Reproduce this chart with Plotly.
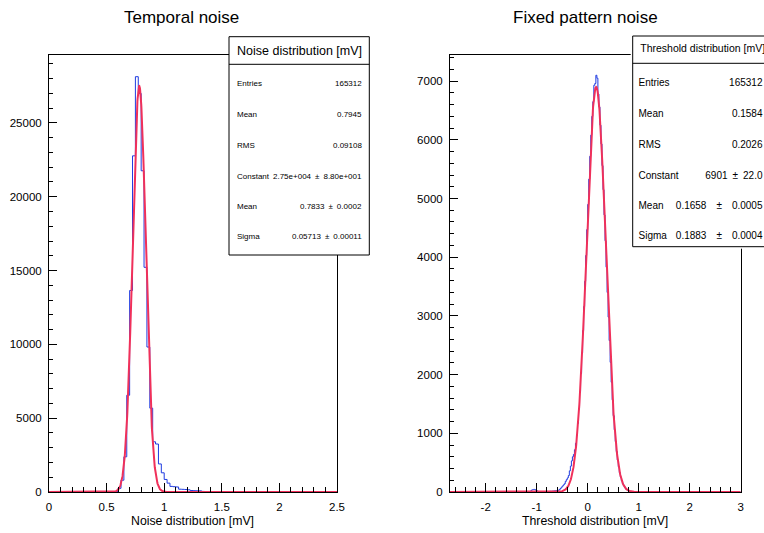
import numpy as np
import plotly.graph_objects as go

# ---------------- data ----------------
# Left panel: temporal noise histogram (bin width 0.025 mV)
noise_bin_width = 0.025
noise_first_edge = 0.575
noise_counts = [30, 250, 800, 2385, 6554, 13650, 22770, 28130, 27000, 21760,
                15220, 9820, 5680, 3400, 3250, 1900, 1300, 850, 600, 380,
                360, 340, 190, 180, 170, 150, 100, 90, 85, 80, 40, 25, 15]
noise_fit_const = 2.75e4
noise_fit_mean = 0.7833
noise_fit_sigma = 0.05713
noise_xrange = [0.0, 2.5]
noise_yrange = [0, 29600]
noise_stats_labels = ["Entries", "Mean", "RMS", "Constant", "Mean", "Sigma"]
noise_stats_values = ["165312", "0.7945", "0.09108", "2.75e+004\u2002\u00b1\u20028.80e+001",
                      "0.7833\u2002\u00b1\u20020.0002", "0.05713\u2002\u00b1\u20020.00011"]

# Right panel: fixed pattern noise histogram (bin width 0.02 mV)
thr_bin_width = 0.02
thr_first_edge = -1.12
thr_counts = [20, 35, 40, 45, 40, 30, 20, 10,
              8, 6, 7, 5, 6, 8, 7, 9, 10, 8, 10, 12, 11, 14, 15, 18, 20, 22,
              25, 30, 40, 60, 80, 100, 120, 140, 180, 210, 240, 280, 360, 440,
              530, 600, 640, 720, 830, 970, 1170, 1410, 1700, 2020, 2370, 2750,
              3160, 3590, 4030, 4470, 4900, 5330, 5720, 6080, 6400, 6650, 6930,
              6960, 7100, 7050, 6780, 6560, 6250, 5930, 5560, 5150, 4720, 4280,
              3830, 3400, 2980, 2580, 2210, 1870, 1570, 1300, 1060, 860, 690,
              545, 430, 330, 255, 190, 145, 105, 80, 56, 40, 28, 20, 14, 9, 6, 4, 2]
thr_fit_const = 6901
thr_fit_mean = 0.1658
thr_fit_sigma = 0.1883
thr_xrange = [-2.7, 3.0]
thr_yrange = [0, 7445]
thr_stats_labels = ["Entries", "Mean", "RMS", "Constant", "Mean", "Sigma"]
thr_stats_values = ["165312", "0.1584", "0.2026", "6901\u2002\u00b1\u200222.0",
                    "0.1658\u2003\u00b1\u20030.0005", "0.1883\u2003\u00b1\u20030.0004"]

thr_tickvals = [-2, -1, 0, 1, 2, 3]
thr_ticktext = ["-2", "-1", "0", "1", "2", "3"]

# ---------------- layout helpers ----------------
W, H = 764, 533
FONT = "Liberation Sans, Arial, Helvetica, sans-serif"
BLUE = "#1f3be0"
RED = "#f0305a"


def px(x):
    return x / W


def py(y):
    return 1 - y / H


def step_xy(first_edge, width, counts, xr):
    edges = first_edge + width * np.arange(len(counts) + 1)
    xs = [xr[0]] + list(edges) + [xr[1]]
    ys = [0] + list(counts) + [0, 0]
    return xs, ys


def gauss(xr, c, m, s):
    x = np.linspace(xr[0], xr[1], 1500)
    return x, c * np.exp(-0.5 * ((x - m) / s) ** 2)


fig = go.Figure()

xs, ys = step_xy(noise_first_edge, noise_bin_width, noise_counts, noise_xrange)
fig.add_trace(go.Scatter(x=xs, y=ys, mode="lines", line=dict(color=BLUE, width=1, shape="hv"),
                         xaxis="x", yaxis="y", showlegend=False, hoverinfo="skip"))
fx, fy = gauss(noise_xrange, noise_fit_const, noise_fit_mean, noise_fit_sigma)
fig.add_trace(go.Scatter(x=fx, y=fy, mode="lines", line=dict(color=RED, width=2),
                         xaxis="x", yaxis="y", showlegend=False, hoverinfo="skip"))

xs, ys = step_xy(thr_first_edge, thr_bin_width, thr_counts, thr_xrange)
fig.add_trace(go.Scatter(x=xs, y=ys, mode="lines", line=dict(color=BLUE, width=1, shape="hv"),
                         xaxis="x2", yaxis="y2", showlegend=False, hoverinfo="skip"))
fx, fy = gauss(thr_xrange, thr_fit_const, thr_fit_mean, thr_fit_sigma)
fig.add_trace(go.Scatter(x=fx, y=fy, mode="lines", line=dict(color=RED, width=2),
                         xaxis="x2", yaxis="y2", showlegend=False, hoverinfo="skip"))

L_X0, L_X1 = 49, 337
R_X0, R_X1 = 450, 740.7
Y_TOP, Y_BOT = 55, 492

axis_common = dict(showline=True, linecolor="black", linewidth=1, mirror=True,
                   showgrid=False, zeroline=False, ticks="inside", tickcolor="black",
                   tickfont=dict(family=FONT, size=11.5, color="black"),
                   ticklabelstandoff=4, automargin=False)

# right stats box lives in its own (invisible) subplot so it is clipped at the page edge
BX0, BX1, BY0, BY1, BSEP = 632.7, 772.7, 36, 246.7, 63.3

fig.update_layout(
    width=W, height=H, margin=dict(l=0, r=0, t=0, b=0, autoexpand=False),
    paper_bgcolor="white", plot_bgcolor="white",
    xaxis=dict(domain=[px(L_X0), px(L_X1)], range=noise_xrange, anchor="y",
               dtick=0.5, ticklen=9,
               minor=dict(dtick=0.1, ticks="inside", ticklen=5, tickcolor="black"),
               **axis_common),
    yaxis=dict(domain=[py(Y_BOT), py(Y_TOP)], range=noise_yrange, anchor="x",
               dtick=5000, ticklen=8, tickformat="d",
               minor=dict(dtick=1000, ticks="inside", ticklen=4, tickcolor="black"),
               **axis_common),
    xaxis2=dict(domain=[px(R_X0), px(R_X1)], range=thr_xrange, anchor="y2",
                tickvals=thr_tickvals, ticktext=thr_ticktext, ticklen=9,
                minor=dict(dtick=0.2, ticks="inside", ticklen=5, tickcolor="black"),
                **axis_common),
    yaxis2=dict(domain=[py(Y_BOT), py(Y_TOP)], range=thr_yrange, anchor="x2",
                dtick=1000, ticklen=8, tickformat="d",
                minor=dict(dtick=200, ticks="inside", ticklen=4, tickcolor="black"),
                **axis_common),
    xaxis3=dict(domain=[px(BX0 - 2), 1.0], range=[BX0 - 2, W], anchor="y3",
                visible=False, fixedrange=True, automargin=False),
    yaxis3=dict(domain=[py(BY1 + 2), py(BY0 - 2)], range=[BY1 + 2, BY0 - 2], anchor="x3",
                visible=False, fixedrange=True, automargin=False),
)

shapes = []
annotations = []


def add_text(x, y, text, size, xanchor="center"):
    annotations.append(dict(x=px(x), y=py(y), xref="paper", yref="paper", text=text,
                            showarrow=False, xanchor=xanchor, yanchor="middle",
                            font=dict(family=FONT, size=size, color="black"),
                            borderpad=0))


# titles
add_text(181.5, 18, "Temporal noise", 17)
add_text(585, 18, "Fixed pattern noise", 17)
# axis titles
add_text((L_X0 + L_X1) / 2, 521, "Noise distribution [mV]", 12.3)
add_text((R_X0 + R_X1) / 2, 521, "Threshold distribution [mV]", 12.3)

ROWS = [83.3, 114.3, 145, 176, 206, 236.7]

# left stats box
LB = (229, 369.3, 36.7, 255, 64.3)
shapes.append(dict(type="rect", xref="paper", yref="paper", x0=px(LB[0]), x1=px(LB[1]),
                   y0=py(LB[3]), y1=py(LB[2]), fillcolor="white",
                   line=dict(color="black", width=1), layer="above"))
shapes.append(dict(type="line", xref="paper", yref="paper", x0=px(LB[0]), x1=px(LB[1]),
                   y0=py(LB[4]), y1=py(LB[4]), line=dict(color="black", width=1),
                   layer="above"))
add_text((LB[0] + LB[1]) / 2, (LB[2] + LB[4]) / 2, "Noise distribution [mV]", 12.5)
for yy, lab, val in zip(ROWS, noise_stats_labels, noise_stats_values):
    add_text(236, yy, lab, 8, "left")
    add_text(363, yy, val, 8, "right")

# right stats box (clipped subplot)
fig.add_trace(go.Scatter(x=[BX0, BX1, BX1, BX0, BX0], y=[BY0, BY0, BY1, BY1, BY0],
                         mode="lines", fill="toself", fillcolor="white",
                         line=dict(color="black", width=1),
                         xaxis="x3", yaxis="y3", showlegend=False, hoverinfo="skip"))
fig.add_trace(go.Scatter(x=[BX0, BX1], y=[BSEP, BSEP], mode="lines",
                         line=dict(color="black", width=1),
                         xaxis="x3", yaxis="y3", showlegend=False, hoverinfo="skip"))
fig.add_trace(go.Scatter(x=[(BX0 + BX1) / 2], y=[(BY0 + BSEP) / 2], mode="text",
                         text=["Threshold distribution [mV]"], textposition="middle center",
                         textfont=dict(family=FONT, size=10.5, color="black"),
                         xaxis="x3", yaxis="y3", showlegend=False, hoverinfo="skip"))
fig.add_trace(go.Scatter(x=[638.5] * len(ROWS), y=ROWS, mode="text",
                         text=thr_stats_labels, textposition="middle right",
                         textfont=dict(family=FONT, size=10, color="black"),
                         xaxis="x3", yaxis="y3", showlegend=False, hoverinfo="skip"))
fig.add_trace(go.Scatter(x=[762.5] * len(ROWS), y=ROWS, mode="text",
                         text=thr_stats_values, textposition="middle left",
                         textfont=dict(family=FONT, size=10, color="black"),
                         xaxis="x3", yaxis="y3", showlegend=False, hoverinfo="skip"))

fig.update_layout(shapes=shapes, annotations=annotations)

fig.write_html("out.html", config={"displayModeBar": False},
               post_script="document.body.style.margin='0';document.body.style.padding='0';document.body.style.overflow='hidden';")
